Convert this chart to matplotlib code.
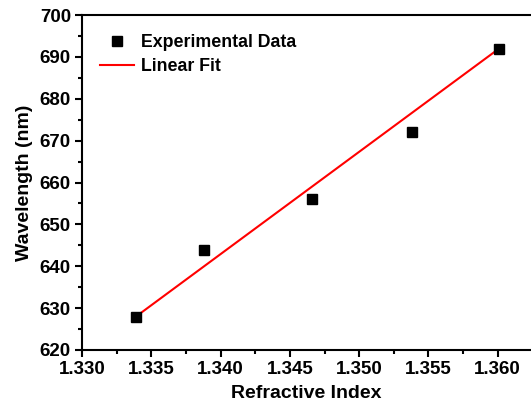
import matplotlib
matplotlib.use("Agg")
import matplotlib.pyplot as plt
from matplotlib.ticker import MultipleLocator

plt.rcParams['font.family'] = ['Liberation Sans', 'DejaVu Sans']
plt.rcParams['font.weight'] = 'bold'

# measured data
ri = [1.3339, 1.3388, 1.3466, 1.3538, 1.3601]
wl = [628, 644, 656, 672, 692]

# linear fit endpoints
fit_x = [1.3339, 1.3601]
fit_y = [628, 692]

xtick_vals = [1.330, 1.335, 1.340, 1.345, 1.350, 1.355, 1.360]
xtick_labels = ['1.330', '1.335', '1.340', '1.345', '1.350', '1.355', '1.360']

fig = plt.figure(figsize=(5.31, 4.07), dpi=100)
ax = fig.add_axes([82/531, 57/407, 449/531, 335/407])

ax.plot(ri, wl, 's', color='black', markersize=6.5, label='Experimental Data', zorder=3)
ax.plot(fit_x, fit_y, '-', color='#ff0000', lw=1.5, label='Linear Fit')

ax.set_xlim(1.330, 1.3624)
ax.set_ylim(620, 700)
ax.xaxis.set_minor_locator(MultipleLocator(0.0025))
ax.yaxis.set_major_locator(MultipleLocator(10))
ax.yaxis.set_minor_locator(MultipleLocator(5))
ax.set_xticks(xtick_vals)
ax.set_xticklabels(xtick_labels)

for s in ax.spines.values():
    s.set_linewidth(1.5)
ax.spines['right'].set_visible(False)

ax.tick_params(which='major', direction='out', length=5, width=1.5, labelsize=13.5, pad=3)
ax.tick_params(which='minor', direction='out', length=3, width=1.5)
for lab in ax.get_xticklabels() + ax.get_yticklabels():
    lab.set_fontweight('bold')

ax.set_xlabel('Refractive Index', fontsize=14, fontweight='bold', labelpad=5)
ax.set_ylabel('Wavelength (nm)', fontsize=14, fontweight='bold', labelpad=5)

ax.legend(loc='upper left', frameon=False, prop={'size': 12.8, 'weight': 'bold'},
          handlelength=1.9, handletextpad=0.4, labelspacing=0.4,
          bbox_to_anchor=(0.005, 0.99))

fig.savefig('out.png', dpi=100)
